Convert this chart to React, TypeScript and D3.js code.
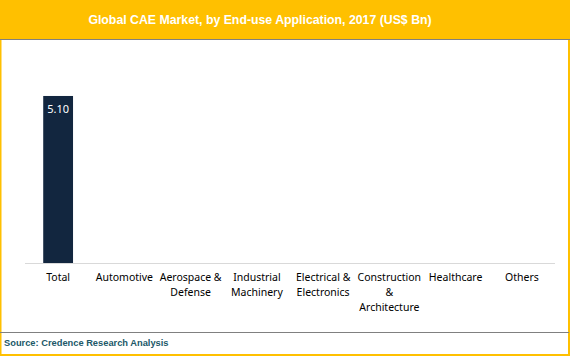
import React from "react";
import * as d3 from "d3";

const title = "Global CAE Market, by End-use Application, 2017 (US$ Bn)";
const source = "Source: Credence Research Analysis";
const categories = [
  "Total",
  "Automotive",
  "Aerospace & Defense",
  "Industrial Machinery",
  "Electrical & Electronics",
  "Construction & Architecture",
  "Healthcare",
  "Others",
];
const categoryLines = [
  ["Total"],
  ["Automotive"],
  ["Aerospace &", "Defense"],
  ["Industrial", "Machinery"],
  ["Electrical &", "Electronics"],
  ["Construction", "&", "Architecture"],
  ["Healthcare"],
  ["Others"],
];
const values: (number | null)[] = [5.1, null, null, null, null, null, null, null];
const yDomain = [0, 6];

const W = 570;
const H = 356;

export default function App() {
  const x = d3.scaleBand<string>().domain(categories).range([25, 555]).paddingInner(0.55).paddingOuter(0.275);
  const band = d3.scaleBand<string>().domain(categories).range([25, 555]);
  const y = d3.scaleLinear().domain(yDomain).range([263, 66.5]);
  const labelFont = "'Noto Sans', sans-serif";
  return (
    <svg
      width={W}
      height={H}
      style={{ position: "fixed", left: 0, top: 0, background: "#fff" }}
    >
      <rect x={0} y={0} width={W} height={39} fill="#FFC000" />
      <line x1={0} x2={W} y1={39.5} y2={39.5} stroke="#808080" strokeWidth={1} />
      <text
        x={260}
        y={24}
        textAnchor="middle"
        fill="#fff"
        fontFamily="'Liberation Sans', Arial, sans-serif"
        fontWeight="bold"
        fontSize={12.3}
      >
        {title}
      </text>
      {/* border */}
      <rect x={0} y={40} width={1.5} height={H - 40} fill="#FFC000" />
      <rect x={W - 2} y={40} width={2} height={H - 40} fill="#FFC000" />
      <rect x={0} y={H - 2} width={W} height={2} fill="#FFC000" />
      <line x1={0} x2={W - 1} y1={332.5} y2={332.5} stroke="#808080" strokeWidth={1} />
      <text
        x={4}
        y={346}
        fill="#215868"
        fontFamily="'Liberation Sans', Arial, sans-serif"
        fontWeight="bold"
        fontSize={9.3}
      >
        {source}
      </text>
      {/* bars */}
      {categories.map((c, i) => {
        const v = values[i];
        if (v == null) return null;
        const bx = x(c)!;
        const bw = x.bandwidth();
        return (
          <g key={c}>
            <rect x={bx} y={y(v)} width={bw} height={y(0) - y(v)} fill="#12263F" />
            <text
              x={bx + bw / 2}
              y={y(v) + 17}
              textAnchor="middle"
              fill="#fff"
              fontFamily={labelFont}
              fontSize={11}
            >
              {d3.format(".2f")(v)}
            </text>
          </g>
        );
      })}
      <line x1={25} x2={555} y1={263.5} y2={263.5} stroke="#D9D9D9" strokeWidth={1} />
      {categories.map((c, i) => (
        <text
          key={c}
          x={band(c)! + band.bandwidth() / 2}
          y={281}
          textAnchor="middle"
          fill="#000"
          fontFamily={labelFont}
          fontSize={10.5}
        >
          {categoryLines[i].map((l, j) => (
            <tspan key={j} x={band(c)! + band.bandwidth() / 2} dy={j === 0 ? 0 : 15}>
              {l}
            </tspan>
          ))}
        </text>
      ))}
    </svg>
  );
}
